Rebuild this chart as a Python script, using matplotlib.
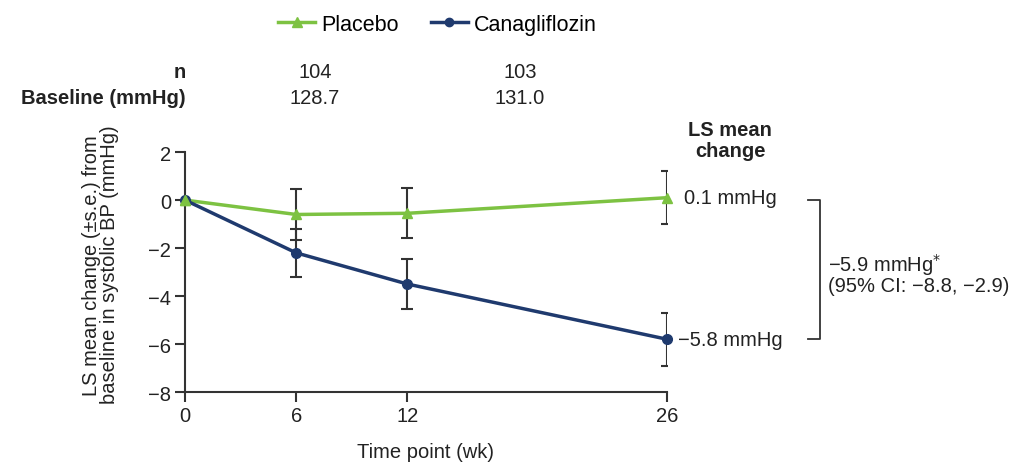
import matplotlib
matplotlib.use("Agg")
from matplotlib import pyplot as plt
from matplotlib.lines import Line2D

plt.rcParams['font.family'] = ['Liberation Sans', 'DejaVu Sans']

weeks = [0, 6, 12, 26]
placebo = [0.0, -0.6, -0.55, 0.1]
placebo_se = [0.0, 1.05, 1.05, 1.1]
cana = [0.0, -2.2, -3.5, -5.8]
cana_se = [0.0, 1.0, 1.05, 1.1]

n_vals = ['104', '103']
baseline_vals = ['128.7', '131.0']

green = '#7dc242'
navy = '#1f3a6e'
grey = '#333333'
tc = '#222222'
fs = 14.5

fig = plt.figure(figsize=(10.25, 4.64), dpi=100)
ax = fig.add_axes([0.1805, 0.153, 0.4702, 0.517])

# error bars
ax.errorbar(weeks[1:], placebo[1:], yerr=placebo_se[1:], fmt='none',
            ecolor=grey, elinewidth=1.5, capsize=4, capthick=1.5, zorder=2)
ax.errorbar(weeks[1:], cana[1:], yerr=cana_se[1:], fmt='none',
            ecolor=grey, elinewidth=1.5, capsize=4, capthick=1.5, zorder=2)

ax.plot(weeks, placebo, color=green, lw=2.5, marker='^', ms=7.5, zorder=3, clip_on=False)
ax.plot(weeks, cana, color=navy, lw=2.5, marker='o', ms=7, zorder=4, clip_on=False)
ax.plot(weeks[:1], placebo[:1], color=green, marker='^', ms=7.5, zorder=5, clip_on=False)

ax.set_xlim(0, 26)
ax.set_ylim(-8, 2)
ax.set_xticks(weeks)
ax.set_yticks([2, 0, -2, -4, -6, -8])
ax.set_yticklabels(['2', '0', '\u22122', '\u22124', '\u22126', '\u22128'])
ax.spines['top'].set_visible(False)
ax.spines['right'].set_visible(False)
for s in ['left', 'bottom']:
    ax.spines[s].set_color(grey)
    ax.spines[s].set_linewidth(1.5)
ax.tick_params(axis='both', colors=grey, width=1.5, length=7, labelsize=fs,
               labelcolor=tc, pad=3)
ax.set_xlabel('Time point (wk)', fontsize=fs, color=tc, labelpad=12)
ax.set_ylabel('LS mean change (\u00b1s.e.) from\nbaseline in systolic BP (mmHg)',
              fontsize=fs, color=tc, linespacing=0.95)
ax.yaxis.set_label_coords(-0.137, 0.533)

# legend
handles = [Line2D([], [], color=green, lw=2.5, marker='^', ms=7.5),
           Line2D([], [], color=navy, lw=2.5, marker='o', ms=6)]
fig.legend(handles, ['Placebo', 'Canagliflozin'], loc='center',
           bbox_to_anchor=(0.427, 0.945), ncol=2, frameon=False, fontsize=15.5,
           handlelength=1.7, handletextpad=0.3, columnspacing=1.5)

# header table
fig.text(186 / 1025, 1 - 72 / 464, 'n', ha='right', va='center', fontsize=fs,
         fontweight='bold', color=tc)
fig.text(186 / 1025, 1 - 99 / 464, 'Baseline (mmHg)', ha='right', va='center',
         fontsize=fs, fontweight='bold', color=tc)
for xp, nv, bv in zip([315, 520], n_vals, baseline_vals):
    fig.text(xp / 1025, 1 - 72 / 464, nv, ha='center', va='center', fontsize=fs, color=tc)
    fig.text(xp / 1025, 1 - 99 / 464, bv, ha='center', va='center', fontsize=fs, color=tc)

# right-side annotations
fig.text(730 / 1025, 1 - 141 / 464, 'LS mean\nchange', ha='center', va='center',
         fontsize=fs, fontweight='bold', color=tc, linespacing=1.15)
ax.annotate('0.1 mmHg', xy=(weeks[-1], placebo[-1]), xytext=(12, 0),
            textcoords='offset points', va='center', fontsize=fs, color=tc,
            annotation_clip=False)
ax.annotate('\u22125.8 mmHg', xy=(weeks[-1], cana[-1]), xytext=(8, 0),
            textcoords='offset points', va='center', fontsize=fs, color=tc,
            annotation_clip=False)

bx0, bx1 = 808 / 1025, 820 / 1025
y_top = 1 - 201 / 464
y_bot = 1 - 340 / 464
fig.add_artist(Line2D([bx0, bx1, bx1, bx0], [y_top, y_top, y_bot, y_bot],
                      color=grey, lw=1.3))
fig.text(828 / 1025, 1 - 274 / 464, '\u22125.9 mmHg$^{*}$\n(95% CI: \u22128.8, \u22122.9)',
         ha='left', va='center', fontsize=fs, color=tc, linespacing=0.95)

fig.savefig('out.png', dpi=100)
